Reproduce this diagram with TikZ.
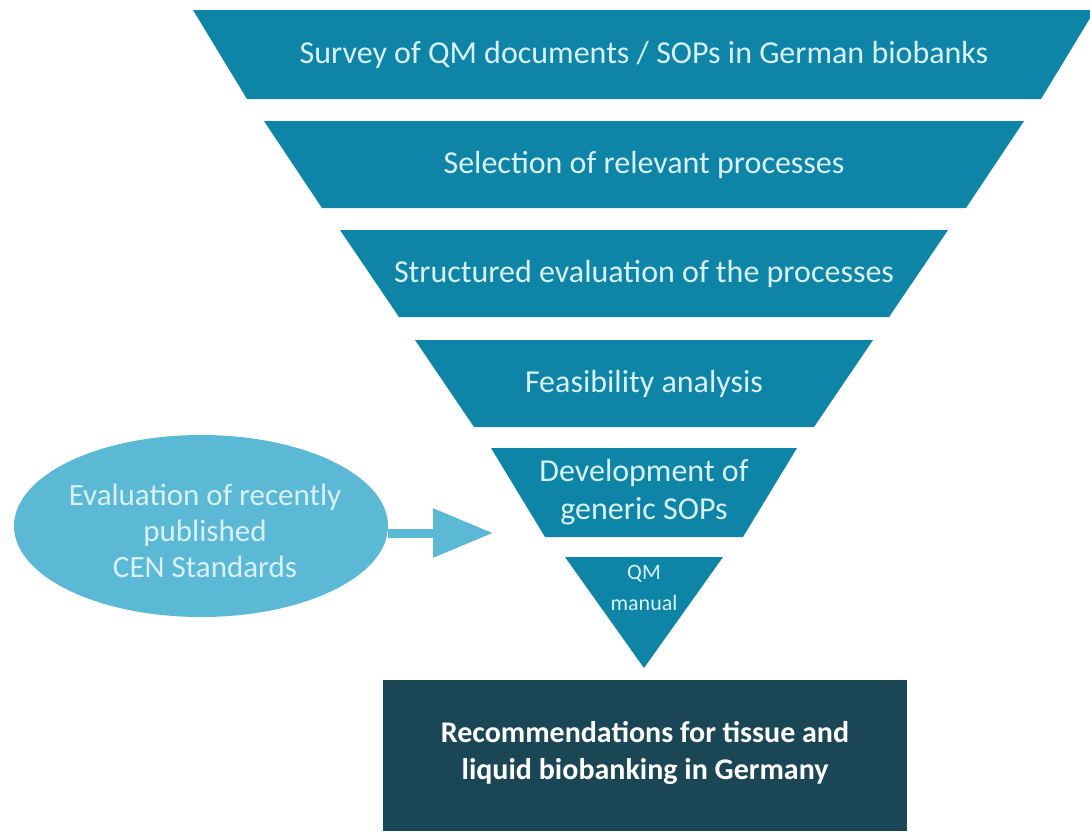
\documentclass[tikz,border=0pt]{standalone}
\usepackage{fontspec}
\setmainfont{Carlito}
\usepackage{tikz}
\usetikzlibrary{arrows.meta,shapes.geometric}
\definecolor{funnel}{HTML}{0E84A6}
\definecolor{cenblue}{HTML}{5BB9D6}
\definecolor{resultbox}{HTML}{1A4656}
\definecolor{funneltext}{HTML}{D8F1F8}
\def\midx{644}

\begin{document}
\begin{tikzpicture}[x=1pt,y=-1pt,
    steptext/.style={text=funneltext,font=\fontsize{32}{38}\selectfont,align=center,inner sep=0pt},
    sidetext/.style={text=funneltext,font=\fontsize{31}{36}\selectfont,align=center}]
  \useasboundingbox (0,0) rectangle (1090,831);

  % funnel steps: top y / bottom y / top half width / bottom half width
  \foreach \yt/\yb/\wt/\wb/\nm/\txt in {
      10/99/451/397/survey/{Survey of QM documents / SOPs in German biobanks},
      121/208/380/322/select/{Selection of relevant processes},
      230/317/304/245/evaluate/{Structured evaluation of the processes},
      340/427/229/170/feasible/{Feasibility analysis},
      448/537/153/99/develop/{Development of\\generic SOPs}} {
    \fill[funnel] (\midx-\wt,\yt) -- (\midx+\wt,\yt) -- (\midx+\wb,\yb) -- (\midx-\wb,\yb) -- cycle;
    \node[steptext] (\nm) at (\midx,{(\yt+\yb)/2}) {\txt};
  }

  % tip of the funnel
  \fill[funnel] (565,557) -- (723,557) -- (\midx,668) -- cycle;
  \node[text=funneltext,font=\fontsize{22}{31}\selectfont,align=center] (manual) at (\midx,588) {QM\\manual};

  % result
  \fill[resultbox] (383,680) rectangle (907,831);
  \node[text=white,font=\bfseries\fontsize{30}{37}\selectfont,align=center] (result) at (645,753)
    {Recommendations for tissue and\\liquid biobanking in Germany};

  % CEN standards feeding in
  \node[ellipse,fill=cenblue,minimum width=374pt,minimum height=182pt,inner sep=0pt] (cen) at (201,526) {};
  \node[sidetext] (centext) at (205,531) {Evaluation of recently\\published\\CEN Standards};
  \coordinate (tip) at (493,533);
  \draw[cenblue,line width=9pt,-{Triangle[width=47pt,length=60pt]}] (cen.east |- tip) -- (tip);
\end{tikzpicture}
\end{document}
